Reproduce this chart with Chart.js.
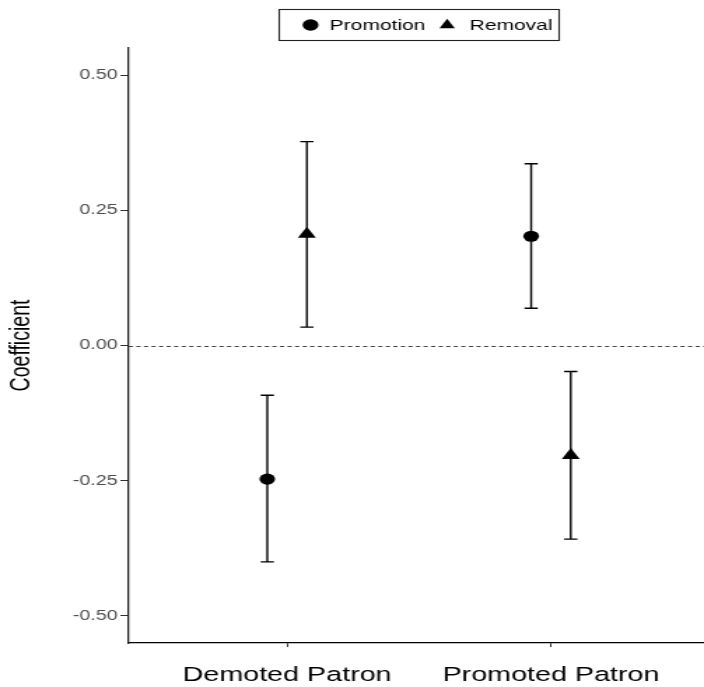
<!DOCTYPE html>
<html>
<head>
<meta charset="utf-8">
<script src="https://cdn.jsdelivr.net/npm/chart.js@4"></script>
<style>
  body { margin: 0; background: #fff; }
  canvas { display: block; }
</style>
</head>
<body>
<!-- the reference is a horizontally stretched plot, so the canvas is drawn narrow and stretched by css -->
<canvas id="chart" width="503" height="687" style="width:704px;height:687px"></canvas>
<script>
const categories = ['Demoted Patron', 'Promoted Patron'];
const seriesNames = ['Promotion', 'Removal'];
const promotionEst = [-0.247, 0.202];
const promotionLow = [-0.400, 0.069];
const promotionHigh = [-0.092, 0.336];
const removalEst = [0.206, -0.203];
const removalLow = [0.034, -0.358];
const removalHigh = [0.377, -0.048];
const yTicks = [-0.50, -0.25, 0.00, 0.25, 0.50];

const dodge = 0.075;
const family = '"Liberation Sans", Arial, sans-serif';

function points(est, lo, hi, shift) {
  return est.map((v, i) => ({ x: i + 1 + shift, y: v, lo: lo[i], hi: hi[i] }));
}

function marker(ctx, style, x, y, r) {
  ctx.beginPath();
  if (style === 'triangle') {
    ctx.moveTo(x, y - r);
    ctx.lineTo(x + r * Math.sqrt(3) / 2, y + r / 2);
    ctx.lineTo(x - r * Math.sqrt(3) / 2, y + r / 2);
    ctx.closePath();
  } else {
    ctx.arc(x, y, r, 0, Math.PI * 2);
  }
  ctx.fill();
}

// dashed zero line + error bars, under the points
const errorBars = {
  id: 'errorBars',
  beforeDatasetsDraw(chart) {
    const { ctx, chartArea, scales: { x, y } } = chart;
    ctx.save();
    const y0 = Math.round(y.getPixelForValue(0)) + 0.5;
    ctx.strokeStyle = '#444';
    ctx.lineWidth = 1.2;
    ctx.setLineDash([3, 2.4]);
    ctx.beginPath();
    ctx.moveTo(chartArea.left, y0);
    ctx.lineTo(chartArea.right, y0);
    ctx.stroke();
    ctx.setLineDash([]);

    ctx.strokeStyle = '#000';
    ctx.lineWidth = 1.4;
    const cap = 4.75;
    chart.data.datasets.forEach(ds => {
      ds.data.forEach(p => {
        const px = x.getPixelForValue(p.x);
        const top = y.getPixelForValue(p.hi);
        const bot = y.getPixelForValue(p.lo);
        ctx.beginPath();
        ctx.moveTo(px, top); ctx.lineTo(px, bot);
        ctx.moveTo(px - cap, top); ctx.lineTo(px + cap, top);
        ctx.moveTo(px - cap, bot); ctx.lineTo(px + cap, bot);
        ctx.stroke();
      });
    });
    ctx.restore();
  }
};

// boxed legend centred over the panel
const boxLegend = {
  id: 'boxLegend',
  afterDraw(chart) {
    const { ctx, scales: { x } } = chart;
    const cx = x.getPixelForValue(1.5);
    const left = cx - 100;
    const cy = 25;
    ctx.save();
    ctx.strokeStyle = '#222';
    ctx.lineWidth = 1.1;
    ctx.strokeRect(Math.round(left) + 0.5, 9.5, 200, 31);
    ctx.fillStyle = '#000';
    ctx.font = '15px ' + family;
    ctx.textBaseline = 'middle';
    ctx.textAlign = 'left';
    const slots = [{ m: 22.5, t: 36.2 }, { m: 120.1, t: 136.2 }];
    chart.data.datasets.forEach((ds, i) => {
      marker(ctx, ds.pointStyle, left + slots[i].m, cy, ds.pointStyle === 'triangle' ? 6.3 : 5.7);
      ctx.fillText(ds.label, left + slots[i].t, cy + 0.5);
    });
    ctx.restore();
  }
};

new Chart(document.getElementById('chart'), {
  type: 'scatter',
  data: {
    datasets: [
      {
        label: seriesNames[0],
        data: points(promotionEst, promotionLow, promotionHigh, -dodge),
        pointStyle: 'circle',
        pointRadius: 5.6,
        backgroundColor: '#000',
        borderWidth: 0,
      },
      {
        label: seriesNames[1],
        data: points(removalEst, removalLow, removalHigh, dodge),
        pointStyle: 'triangle',
        pointRadius: 7.4,
        backgroundColor: '#000',
        borderWidth: 0,
      },
    ],
  },
  options: {
    responsive: false,
    devicePixelRatio: 1,
    animation: false,
    layout: { autoPadding: false, padding: { top: 48, left: 0, right: 0, bottom: 0 } },
    plugins: {
      legend: { display: false },
      tooltip: { enabled: false },
    },
    scales: {
      x: {
        type: 'linear',
        min: 0.4,
        max: 2.58,
        afterBuildTicks(s) { s.ticks = categories.map((c, i) => ({ value: i + 1 })); },
        afterFit(s) { s.height = 44; },
        ticks: {
          autoSkip: false,
          maxRotation: 0,
          padding: 16,
          color: '#000',
          font: { family: family, size: 20.5 },
          callback: (v, i) => categories[i],
        },
        grid: { drawOnChartArea: false, drawTicks: true, tickLength: 4, tickColor: '#333', tickWidth: 1 },
        border: { color: '#000', width: 1.3 },
      },
      y: {
        min: -0.55,
        max: 0.55,
        afterBuildTicks(s) { s.ticks = yTicks.map(v => ({ value: v })); },
        afterFit(s) { s.width = 92; },
        ticks: {
          padding: 2,
          color: '#4D4D4D',
          font: { family: family, size: 14 },
          callback: v => v.toFixed(2),
        },
        grid: { drawOnChartArea: false, drawTicks: true, tickLength: 6, tickColor: '#333', tickWidth: 1 },
        border: { color: '#222', width: 1.3 },
        title: {
          display: true,
          text: 'Coefficient',
          color: '#000',
          font: { family: family, size: 19.5 },
          padding: { top: 4, bottom: 0 },
        },
      },
    },
  },
  plugins: [errorBars, boxLegend],
});
</script>
</body>
</html>
